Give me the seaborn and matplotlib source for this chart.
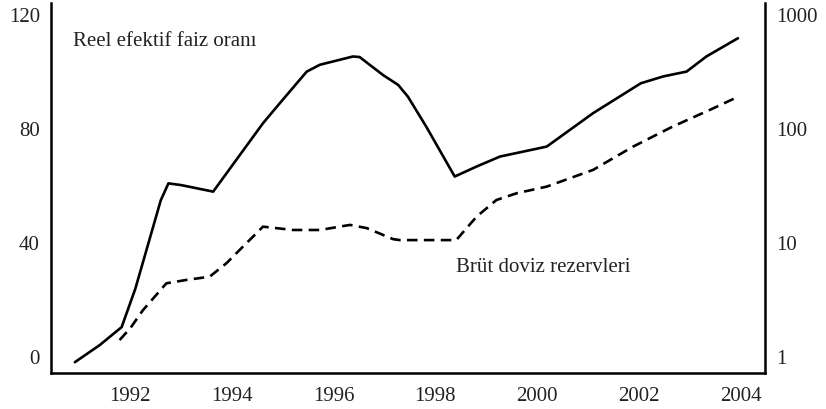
import numpy as np
import pandas as pd
import matplotlib
matplotlib.use("Agg")
import matplotlib.pyplot as plt
import seaborn as sns

# Reel efektif faiz oranı (sol eksen, doğrusal)
yil_faiz = [1990.91, 1991.40, 1991.83, 1992.10, 1992.60, 1992.75, 1993.00, 1993.63,
            1994.61, 1994.94, 1995.47, 1995.73, 1996.38, 1996.51, 1996.97, 1997.27,
            1997.46, 1997.82, 1998.38, 1998.81, 1999.27, 2000.19, 2001.10, 2002.04,
            2002.48, 2002.94, 2003.33, 2003.95]
faiz = [-1.8, 4.2, 10.5, 24.0, 55.0, 60.9, 60.3, 58.0,
        82.0, 89.0, 100.1, 102.5, 105.4, 105.2, 98.9, 95.4,
        91.3, 80.8, 63.3, 66.8, 70.3, 73.8, 85.5, 96.0,
        98.4, 100.1, 105.4, 111.8]

# Brüt döviz rezervleri (sağ eksen, logaritmik)
yil_rezerv = [1991.79, 1992.00, 1992.25, 1992.71, 1993.10, 1993.56, 1993.89, 1994.15,
              1994.61, 1995.20, 1995.73, 1996.32, 1996.65, 1997.17, 1997.30, 1998.41,
              1998.81, 1999.20, 1999.60, 2000.19, 2001.10, 2001.89, 2002.67, 2003.40, 2003.96]
rezerv = [1.41, 1.79, 2.58, 4.43, 4.74, 5.06, 6.64, 8.68,
          13.9, 13.0, 13.0, 14.4, 13.5, 10.8, 10.6, 10.6,
          17.0, 23.8, 27.3, 31.2, 43.7, 70.0, 105, 147, 192]

yil_etiket = [1992, 1994, 1996, 1998, 2000, 2002, 2004]
sol_etiket = [0, 40, 80, 120]
sag_etiket = [1, 10, 100, 1000]

df_faiz = pd.DataFrame({"Yıl": yil_faiz, "Değer": faiz})
df_rezerv = pd.DataFrame({"Yıl": yil_rezerv, "Değer": rezerv})

sns.set_style("white")
plt.rcParams["font.family"] = ["Liberation Serif", "DejaVu Serif"]

fig = plt.figure(figsize=(8.26, 4.09), dpi=100)
ax = fig.add_axes([0.0617, 0.088, 0.8643, 0.905])

sns.lineplot(data=df_faiz, x="Yıl", y="Değer", ax=ax, color="black", lw=1.9)
ax.set_xlim(1990.44, 2004.48)
ax.set_ylim(-5.6, 124.2)
ax.set_xticks(yil_etiket)
ax.set_yticks(sol_etiket)

ax2 = ax.twinx()
sns.lineplot(data=df_rezerv, x="Yıl", y="Değer", ax=ax2, color="black", lw=1.9,
             linestyle=(0, (4, 2.4)))
ax2.set_yscale("log")
ax2.set_ylim(10 ** (-5.6 / 40), 10 ** (124.2 / 40))
ax2.set_yticks(sag_etiket)
ax2.set_yticklabels([str(v) for v in sag_etiket])
ax2.minorticks_off()

for a in (ax, ax2):
    a.set_xlabel("")
    a.set_ylabel("")
    a.spines["top"].set_visible(False)
    for s in ("left", "right", "bottom"):
        a.spines[s].set_linewidth(1.8)
        a.spines[s].set_color("black")
    a.tick_params(axis="y", length=0, labelsize=15, colors="#222222", pad=8)
    a.tick_params(axis="x", length=0, labelsize=15, colors="#222222", pad=10)

ax.spines["right"].set_visible(False)
ax2.spines["left"].set_visible(False)
ax2.spines["bottom"].set_visible(False)

ax.text(1990.87, 110.5, "Reel efektif faiz oranı", fontsize=15, color="#222222",
        va="center", ha="left")
ax.text(1998.40, 31.5, "Brüt doviz rezervleri", fontsize=15, color="#222222",
        va="center", ha="left")

fig.savefig("out.png", dpi=100)
